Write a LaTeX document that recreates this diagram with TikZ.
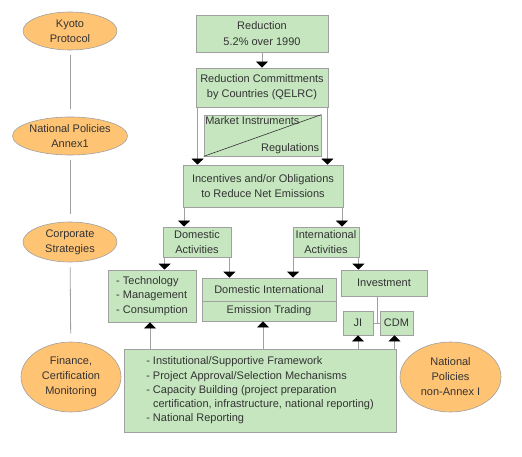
\documentclass[tikz,border=0pt]{standalone}
\usepackage{fontspec}
\setmainfont{Liberation Sans}
\usetikzlibrary{arrows.meta,shapes.geometric}
\definecolor{boxgreen}{HTML}{C6E6C0}
\definecolor{ovalorange}{HTML}{FFC374}
\definecolor{edgegrey}{HTML}{A0A0A0}
\definecolor{textgrey}{HTML}{333333}
\tikzset{
  box/.style={draw=edgegrey,fill=boxgreen,line width=0.8pt,inner sep=0pt,align=center,text=textgrey,font=\fontsize{11}{15}\selectfont},
  oval/.style={ellipse,draw=edgegrey,fill=ovalorange,line width=0.6pt,inner sep=0pt,align=center,text=textgrey,font=\fontsize{11}{15}\selectfont},
  tag/.style={inner sep=2pt,text=textgrey,font=\fontsize{11}{15}\selectfont},
  link/.style={draw=edgegrey,line width=0.8pt},
  arr/.style={link,-{Triangle[width=12pt,length=6pt,color=black]}},
  level/.style={link,shorten <=5pt,shorten >=8pt}
}
\begin{document}
\begin{tikzpicture}[x=1pt,y=-1pt]
  \useasboundingbox (0,0) rectangle (522,457);
  \node (kyoto) [oval,minimum width=94,minimum height=38] at (70,31) {Kyoto\\Protocol};
  \node (annex) [oval,minimum width=94,minimum height=38] at (70,136) {National Policies\\Annex1};
  \node (corp) [oval,minimum width=94,minimum height=40] at (70,242) {Corporate\\Strategies};
  \node (fin) [oval,minimum width=100,minimum height=70] at (71,377) {Finance,\\Certification\\Monitoring};
  \node (nonannex) [oval,minimum width=101,minimum height=70] at (450.5,377) {National\\Policies\\non-Annex I};
  \draw[level] (kyoto) -- (annex);
  \draw[level] (annex) -- (corp);
  \draw[level] (corp) -- (fin);
  \node (red) [box,minimum width=132,minimum height=37,font=\fontsize{11}{16.5}\selectfont] at (262,33.5) {Reduction\\5.2\% over 1990};
  \node (comm) [box,minimum width=132,minimum height=39] at (262,87.5) {Reduction Committments\\by Countries (QELRC)};
  \node (mkt) [box,minimum width=117,minimum height=41] at (262.5,135.5) {};
  \draw[textgrey,line width=0.6pt] (mkt.south west) -- (mkt.north east);
  \node (mi) [tag,anchor=north west,inner sep=1.5pt] at (mkt.north west) {Market Instruments};
  \node (reg) [tag,anchor=south east] at (mkt.south east) {Regulations};
  \node (inc) [box,minimum width=160,minimum height=42] at (263,186) {Incentives and/or Obligations\\to Reduce Net Emissions};
  \node (dom) [box,minimum width=68,minimum height=30,font=\fontsize{11}{14.3}\selectfont] at (197,242) {Domestic\\Activities};
  \node (intl) [box,minimum width=66,minimum height=30,font=\fontsize{11}{14.3}\selectfont] at (326,242) {International\\Activities};
  \node (tech) [box,minimum width=88,minimum height=52,align=left,font=\fontsize{11}{14.5}\selectfont] at (152,296) {- Technology\\- Management\\- Consumption};
  \node (ditop) [box,minimum width=134,minimum height=23] at (269,289.5) {Domestic International};
  \node (ditbot) [box,minimum width=134,minimum height=20] at (269,311) {Emission Trading};
  \node (inv) [box,minimum width=86,minimum height=26] at (384,283) {Investment};
  \node (ji) [box,minimum width=30,minimum height=24] at (358,323) {JI};
  \node (cdm) [box,minimum width=33,minimum height=24] at (396.5,323) {CDM};
  \node (big) [box,minimum width=272,minimum height=83,align=left,font=\fontsize{11}{14.3}\selectfont] at (260,390.5) {- Institutional/Supportive Framework\\- Project Approval/Selection Mechanisms\\- Capacity Building (project preparation\\\phantom{- }certification, infrastructure, national  reporting)\\- National Reporting};
  \draw[arr] (red) -- (comm);
  \draw[arr] ([xshift=2pt]comm.south west) -- ([xshift=2pt]comm.south west |- inc.north);
  \draw[arr] ([xshift=-1pt]comm.south east) -- ([xshift=-1pt]comm.south east |- inc.north);
  \draw[arr] ([xshift=1.5pt]inc.south west) -- ([xshift=1.5pt]inc.south west |- dom.north);
  \draw[arr] ([xshift=-1.5pt]inc.south east) -- ([xshift=-1.5pt]inc.south east |- intl.north);
  \draw[arr] ([xshift=2pt]dom.south west) -- ([xshift=2pt]dom.south west |- tech.north);
  \draw[arr] ([xshift=-2pt]dom.south east) -- ([xshift=-2pt]dom.south east |- ditop.north);
  \draw[arr] ([xshift=0.5pt]intl.south west) -- ([xshift=0.5pt]intl.south west |- ditop.north);
  \draw[arr] ([xshift=-1pt]intl.south east) -- ([xshift=-1pt]intl.south east |- inv.north);
  \coordinate (jc) at ([xshift=-7pt]inv.south |- ji.east);
  \draw[link] ([xshift=-7pt]inv.south) -- (jc);
  \draw[link] (ji.east) -- (cdm.west);
  \draw[arr] (big.north -| tech.south) ++(-2,0) -- ([xshift=-2pt]tech.south);
  \draw[arr] ([xshift=-6pt]big.north -| ditbot.south) -- ([xshift=-6pt]ditbot.south);
  \draw[arr] (big.north -| ji.south) -- (ji.south);
  \draw[arr] ([xshift=-2pt]big.north -| cdm.south) -- ([xshift=-2pt]cdm.south);
\end{tikzpicture}
\end{document}
